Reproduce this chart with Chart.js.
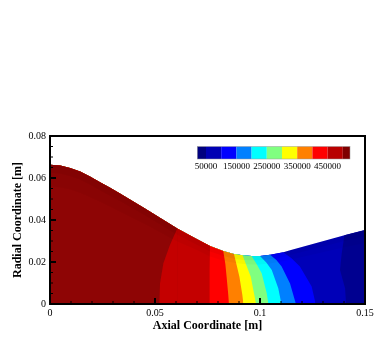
<!DOCTYPE html>
<html>
<head>
<meta charset="utf-8">
<style>
  html, body { margin: 0; padding: 0; background: #fff; }
  #wrap { width: 381px; height: 339px; }
</style>
<script src="https://cdn.jsdelivr.net/npm/chart.js@4"></script>
</head>
<body>
<div id="wrap"><canvas id="myChart"></canvas></div>
<script>
// Wall of the nozzle, axial / radial [m]
var wallX = [0, 0.0048, 0.0095, 0.0143, 0.019, 0.0238, 0.0286, 0.0333, 0.045, 0.0606, 0.0694, 0.0762, 0.0825, 0.0876, 0.0917, 0.096, 0.1, 0.1048, 0.1111, 0.1143, 0.1402, 0.15];
var wallY = [0.0663, 0.0659, 0.0648, 0.0631, 0.0607, 0.058, 0.0553, 0.0526, 0.0456, 0.036, 0.0312, 0.0276, 0.0252, 0.0238, 0.0232, 0.0229, 0.0229, 0.0234, 0.0247, 0.0256, 0.0327, 0.0352];

// Darker mesh rows just under the wall, same axial stations as the wall
var meshNearY = [0.0625, 0.0621, 0.061, 0.0593, 0.0569, 0.0542, 0.0515, 0.049, 0.0424, 0.033, 0.0285, 0.025, 0.0228, 0.0216, 0.021, 0.0208, 0.0208, 0.0213, 0.0224, 0.0233, 0.03, 0.0323];
var meshFarY = [0.056, 0.0556, 0.0546, 0.053, 0.051, 0.0487, 0.0464, 0.044, 0.0382, 0.0298, 0.026, 0.0226, 0.0206, 0.0196, 0.019, 0.0188, 0.0188, 0.0193, 0.0203, 0.0211, 0.027, 0.029];

// Contour lines, from the wall down to the axis
var c500X = [0.0606, 0.0571, 0.054, 0.0524, 0.052];
var c500Y = [0.036, 0.0281, 0.0194, 0.0099, 0];
var c450X = [0.0762, 0.0759, 0.0759];
var c450Y = [0.0276, 0.0162, 0];
var c400X = [0.0825, 0.0835, 0.0841, 0.0849, 0.0852];
var c400Y = [0.0252, 0.019, 0.013, 0.0043, 0];
var c350X = [0.0876, 0.0889, 0.0902, 0.0916, 0.0921];
var c350Y = [0.0238, 0.0185, 0.013, 0.0043, 0];
var c300X = [0.0917, 0.0936, 0.0956, 0.0973, 0.0981];
var c300Y = [0.0232, 0.0182, 0.013, 0.0043, 0];
var c250X = [0.096, 0.0985, 0.1008, 0.1032, 0.104];
var c250Y = [0.0229, 0.0188, 0.0146, 0.0051, 0];
var c200X = [0.1, 0.103, 0.1056, 0.1087, 0.1102];
var c200Y = [0.0229, 0.0198, 0.0162, 0.0075, 0];
var c150X = [0.1048, 0.1078, 0.1103, 0.1143, 0.1171];
var c150Y = [0.0234, 0.021, 0.0178, 0.0098, 0];
var c100X = [0.1111, 0.115, 0.119, 0.1246, 0.1265];
var c100Y = [0.0247, 0.0218, 0.0178, 0.0083, 0];
var c50UpperX = [0.1381, 0.1389, 0.1402];
var c50UpperY = [0.0162, 0.0241, 0.0327];
var c50LowerX = [0.1381, 0.1405, 0.141];
var c50LowerY = [0.0162, 0.0075, 0];

// Colour bar
var barLevels = [50000, 100000, 150000, 200000, 250000, 300000, 350000, 400000, 450000, 500000];
var barColors = ['#00007f', '#0000b4', '#0000ff', '#0080ff', '#00ffff', '#80ff80', '#ffff00', '#ff8000', '#ff0000', '#b80000', '#7f0000'];
var barLabels = [50000, 150000, 250000, 350000, 450000];

var xTicksMajor = [0.05, 0.1];
var xTicksMinor = [0.01, 0.02, 0.03, 0.04, 0.06, 0.07, 0.08, 0.09, 0.11, 0.12, 0.13, 0.14];
var yTicksMajor = [0.02, 0.04, 0.06];
var yTicksMinor = [0.005, 0.01, 0.015, 0.025, 0.03, 0.035, 0.045, 0.05, 0.055, 0.065, 0.07, 0.075];

function pts(xs, ys) {
  return xs.map(function (x, i) { return { x: x, y: ys[i] }; });
}

// Wall up to a contour, then down the contour to the axis
function leftOf(xs, ys) {
  var wall = pts(wallX, wallY).filter(function (p) { return p.x < xs[0]; });
  return wall.concat(pts(xs, ys));
}

// Only the wall, up to and including the top of a contour
function wallUpTo(xs) {
  return pts(wallX, wallY).filter(function (p) { return p.x <= xs[0]; });
}

// Contour up to the wall, then along the wall to the outlet
function rightOf(xs, ys) {
  var n = xs.length - 1;
  var wall = pts(wallX, wallY).filter(function (p) { return p.x > xs[n]; });
  return pts(xs, ys).concat(wall);
}

function band(data, color) {
  return {
    data: data,
    showLine: true,
    fill: 'origin',
    tension: 0,
    pointRadius: 0,
    borderWidth: 0,
    borderColor: color,
    backgroundColor: color
  };
}

// Shading between the wall and a mesh row
function shade(meshY, color) {
  var top = band(pts(wallX, wallY), color);
  top.fill = '+1';
  var bottom = band(pts(wallX, meshY), color);
  bottom.fill = false;
  return [bottom, top];
}

// Listed back to front; Chart.js paints the last dataset first
var datasets = [
  band(pts(wallX, wallY), '#0000b8'),
  band(rightOf(c50UpperX, c50UpperY), '#000090'),
  band(pts(c50LowerX, c50LowerY), '#0000b8'),
  band(leftOf(c100X, c100Y), '#0000ff'),
  band(leftOf(c150X, c150Y), '#0080ff'),
  band(leftOf(c200X, c200Y), '#00ffff'),
  band(leftOf(c250X, c250Y), '#80ff80'),
  band(leftOf(c300X, c300Y), '#ffff00'),
  band(leftOf(c350X, c350Y), '#ff8000'),
  band(leftOf(c400X, c400Y), '#ff0000'),
  band(wallUpTo(c450X), '#c40000'),
  band(pts(c450X, c450Y).reverse(), '#ff0000'),
  band(wallUpTo(c500X), '#8e0505'),
  band(pts(c500X, c500Y).reverse(), '#c40000')
].concat(shade(meshFarY, 'rgba(0,0,0,0.03)'), shade(meshNearY, 'rgba(0,0,0,0.04)')).reverse();

// Frame, inward ticks and the colour bar
var extras = {
  id: 'extras',
  afterDatasetsDraw: function (chart) {
    var ctx = chart.ctx, a = chart.chartArea;
    var x = chart.scales.x, y = chart.scales.y;
    ctx.save();
    ctx.strokeStyle = '#000';

    ctx.lineWidth = 1;
    xTicksMinor.forEach(function (v) { tick(ctx, x.getPixelForValue(v), a.bottom, 0, -3); });
    yTicksMinor.forEach(function (v) { tick(ctx, a.left, y.getPixelForValue(v), 3, 0); });
    ctx.lineWidth = 2;
    xTicksMajor.forEach(function (v) { tick(ctx, x.getPixelForValue(v), a.bottom, 0, -6); });
    yTicksMajor.forEach(function (v) { tick(ctx, a.left, y.getPixelForValue(v), 6, 0); });

    ctx.strokeRect(a.left, a.top, a.right - a.left, a.bottom - a.top);

    // colour bar
    var barTop = 146.5, barH = 12.5, x0 = 206, step = 15.2;
    var edges = [197.3];
    barLevels.forEach(function (l) { edges.push(x0 + (l - barLevels[0]) / 50000 * step); });
    edges.push(350);
    barColors.forEach(function (c, i) {
      ctx.fillStyle = c;
      ctx.fillRect(edges[i], barTop, edges[i + 1] - edges[i], barH);
    });
    ctx.strokeStyle = '#999';
    ctx.lineWidth = 0.5;
    ctx.strokeRect(197.3, barTop, 350 - 197.3, barH);
    ctx.fillStyle = '#000';
    ctx.font = '9px "Liberation Serif"';
    ctx.textAlign = 'center';
    ctx.textBaseline = 'middle';
    barLabels.forEach(function (l) {
      ctx.fillText(String(l), x0 + (l - barLevels[0]) / 50000 * step, 167);
    });
    ctx.restore();
  }
};

function tick(ctx, px, py, dx, dy) {
  ctx.beginPath();
  ctx.moveTo(px, py);
  ctx.lineTo(px + dx, py + dy);
  ctx.stroke();
}

function axisLabel(v) {
  return String(+v.toFixed(2));
}

Chart.defaults.font.family = '"Liberation Serif"';
Chart.defaults.color = '#000';

new Chart(document.getElementById('myChart'), {
  type: 'scatter',
  data: { datasets: datasets },
  plugins: [extras],
  options: {
    responsive: true,
    maintainAspectRatio: false,
    animation: false,
    layout: { padding: { left: 11, right: 16, top: 136, bottom: 6 } },
    plugins: { legend: { display: false }, tooltip: { enabled: false } },
    scales: {
      x: {
        type: 'linear',
        min: 0,
        max: 0.15,
        afterFit: function (s) { s.height = 29; },
        grid: { display: false, drawTicks: false, tickLength: 0 },
        border: { display: false },
        ticks: { stepSize: 0.05, maxRotation: 0, padding: 3, font: { size: 10 }, callback: axisLabel },
        title: { display: true, text: 'Axial Coordinate [m]', font: { size: 12, weight: 'bold' }, padding: 0 }
      },
      y: {
        type: 'linear',
        min: 0,
        max: 0.08,
        afterFit: function (s) { s.width = 39; },
        grid: { display: false, drawTicks: false, tickLength: 0 },
        border: { display: false },
        ticks: { stepSize: 0.02, padding: 4, font: { size: 10 }, callback: axisLabel },
        title: { display: true, text: 'Radial Coordinate [m]', font: { size: 12, weight: 'bold' }, padding: 0 }
      }
    }
  }
});
</script>
</body>
</html>
